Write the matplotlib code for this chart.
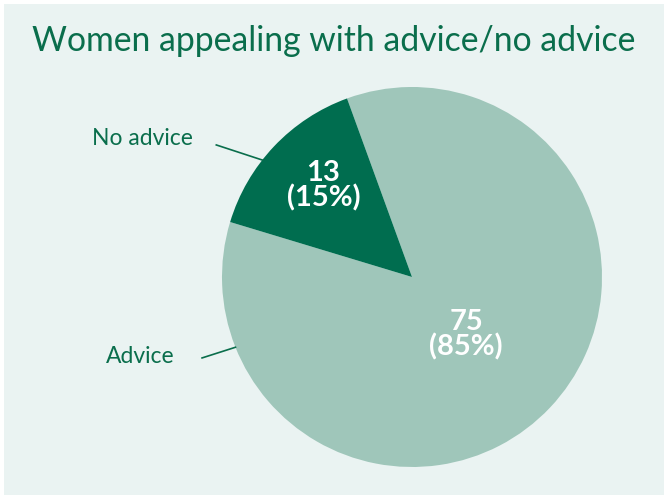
import numpy as np
import matplotlib.pyplot as plt

plt.rcParams['font.family'] = ['Lato', 'DejaVu Sans']

labels = ['Advice', 'No advice']
values = [75, 13]
colors = ['#9fc6ba', '#006d4f']
bg = '#eaf3f2'
dark = '#0a6e4c'

fig = plt.figure(figsize=(6.64, 4.95), dpi=100)
fig.patch.set_facecolor('white')
# light panel behind everything
fig.patches.append(plt.Rectangle((4 / 664, 0), 1, 1 - 4 / 495, transform=fig.transFigure,
                                 facecolor=bg, edgecolor='none', zorder=-1))

fig.text(0.503, 0.918, 'Women appealing with advice/no advice', ha='center', va='center',
         fontsize=24.3, color=dark)

ax = fig.add_axes([(412 - 190) / 664, (495 - 277 - 190) / 495, 380 / 664, 380 / 495])
ax.set_facecolor('none')
wedges, _ = ax.pie(values, colors=colors, startangle=110, counterclock=False,
                   radius=1, wedgeprops=dict(linewidth=0))
ax.set_xlim(-1, 1)
ax.set_ylim(-1, 1)
ax.set_aspect('equal')
ax.axis('off')

total = sum(values)
# value labels inside the slices
value_pos = {'Advice': (0.417, 313), 'No advice': (0.67, 134)}
for lab, v in zip(labels, values):
    r, a = value_pos[lab]
    ax.text(r * np.cos(np.radians(a)), r * np.sin(np.radians(a)),
            f'{v}\n({v / total * 100:.0f}%)', ha='center', va='center',
            color='white', fontsize=21, fontweight='bold', linespacing=0.92)

# outside labels with leader lines
outside = {'No advice': ((-1.42, 0.73), (-1.03, 0.695), 142),
           'Advice': ((-1.43, -0.42), (-1.105, -0.426), 201.7)}
for lab in labels:
    (tx, ty), (lx, ly), a = outside[lab]
    ax.plot([lx, np.cos(np.radians(a))], [ly, np.sin(np.radians(a))],
            color=dark, lw=1.2, clip_on=False)
    ax.text(tx, ty, lab, ha='center', va='center', fontsize=16.5, color=dark)

fig.savefig('out.png', dpi=100, facecolor=fig.get_facecolor())
